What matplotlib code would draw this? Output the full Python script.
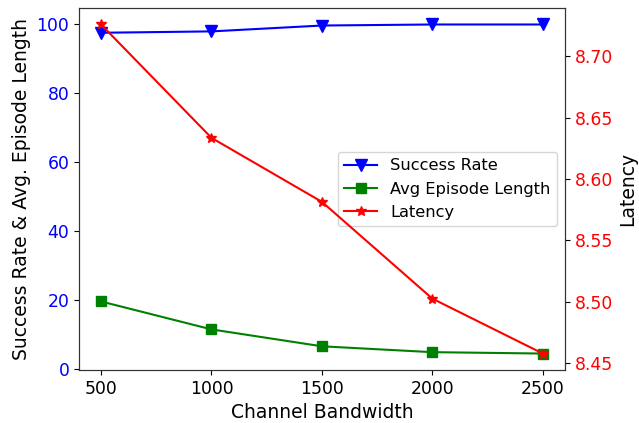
import matplotlib
matplotlib.use("Agg")
import matplotlib.pyplot as plt

bandwidth = [500, 1000, 1500, 2000, 2500]
success_rate = [97.6, 98.0, 99.7, 100.0, 100.0]
avg_episode_length = [19.7, 11.6, 6.7, 5.0, 4.6]
latency = [8.7258, 8.6335, 8.5814, 8.5026, 8.4579]

plt.rcParams["font.size"] = 12.4
plt.rcParams["axes.edgecolor"] = "#333333"

fig, ax = plt.subplots(figsize=(6.39, 4.23), dpi=100)
fig.subplots_adjust(left=0.1236, right=0.884, bottom=0.1253, top=0.981)

l1, = ax.plot(bandwidth, success_rate, color="blue", marker="v", markersize=8,
              label="Success Rate")
l2, = ax.plot(bandwidth, avg_episode_length, color="green", marker="s", markersize=7,
              label="Avg Episode Length")
ax.set_xlabel("Channel Bandwidth", fontsize=13.5)
ax.set_ylabel("Success Rate & Avg. Episode Length", fontsize=13.5)
ax.tick_params(axis="y", labelcolor="blue")
ax.set_xticks(bandwidth)

ax2 = ax.twinx()
l3, = ax2.plot(bandwidth, latency, color="red", marker="*", markersize=7,
               label="Latency")
ax2.set_ylabel("Latency", fontsize=13.5)
ax2.tick_params(axis="y", labelcolor="red")

ax.legend(handles=[l1, l2, l3], loc="center right", fontsize=11.7)

fig.savefig("out.png", dpi=100)
